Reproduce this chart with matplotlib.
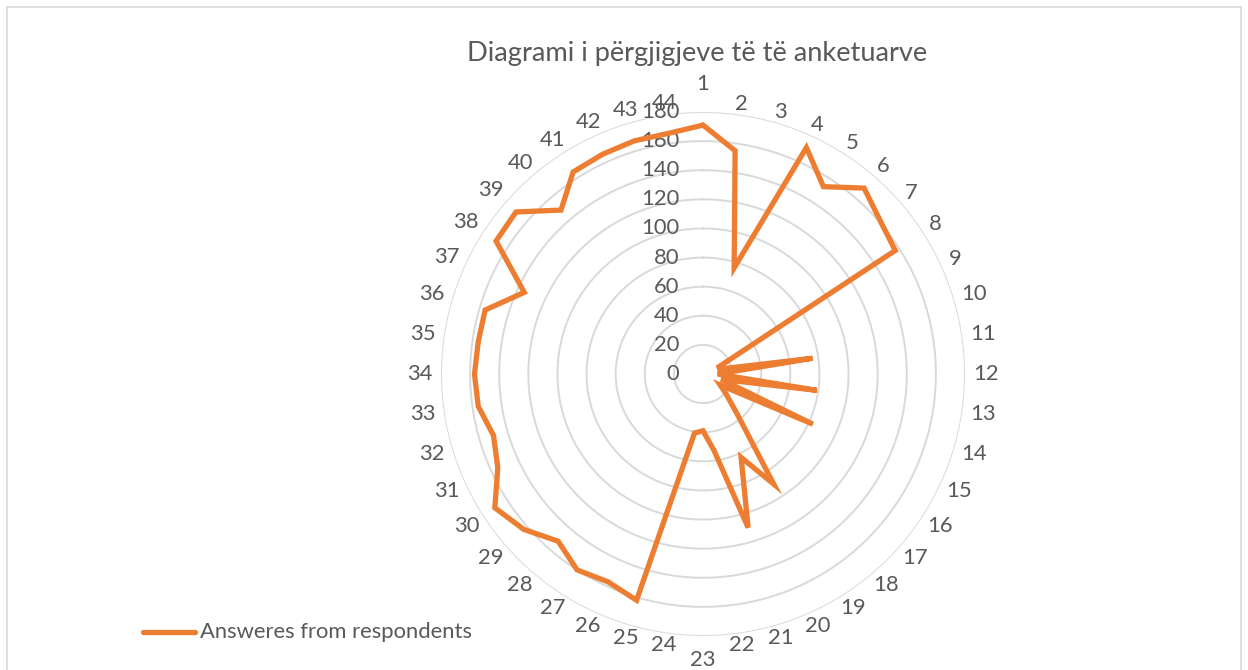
import numpy as np
import matplotlib
matplotlib.use("Agg")
import matplotlib.pyplot as plt
from matplotlib.lines import Line2D

title = "Diagrami i përgjigjeve të të anketuarve"
series_name = "Answeres from respondents"
categories = [str(i) for i in range(1, 45)]
values = [171, 155, 76, 171, 153, 169, 161, 157, 12, 12,
          76, 10, 79, 13, 83, 14, 21, 35, 90, 63,
          110, 53, 39, 41, 162, 157, 160, 152, 163, 170,
          155, 150, 156, 157, 156, 156, 135, 169, 170, 149,
          165, 166, 167, 167]
r_ticks = [0, 20, 40, 60, 80, 100, 120, 140, 160, 180]

W, H = 1248, 670
fig = plt.figure(figsize=(W / 100, H / 100), dpi=100)
fig.patch.set_facecolor("white")

FONT = ["Lato", "DejaVu Sans"]
TXT = "#595959"
GRID = "#D9D9D9"
ORANGE = "#ED7D31"
FS = 15.8

# chart frame
for xs, ys in [((7, 7), (0, H - 7)), ((7, W - 7), (H - 7, H - 7)), ((W - 7, W - 7), (0, H - 7))]:
    fig.add_artist(Line2D([x / W for x in xs], [y / H for y in ys], color=GRID, lw=1.2))

cx, cy, R = 703, 374, 262
ax = fig.add_axes([(cx - R) / W, (H - cy - R) / H, 2 * R / W, 2 * R / H], projection="polar")
ax.set_theta_zero_location("N")
ax.set_theta_direction(-1)
ax.set_ylim(0, 180)
px2data = 180 / R

n = len(categories)
theta = np.arange(n) * 2 * np.pi / n

ax.set_xticks([])
ax.set_yticks(r_ticks[1:])
ax.set_yticklabels([])
ax.grid(False)
tt = np.linspace(0, 2 * np.pi, 400)
for v in r_ticks[1:]:
    ax.plot(tt, np.full_like(tt, v), color=GRID, lw=1.4, zorder=1)
ax.spines["polar"].set_visible(False)
ax.set_facecolor("none")

tc = np.append(theta, theta[0])
vc = np.append(values, values[0])
ax.plot(tc, vc, color=ORANGE, lw=3.8, solid_joinstyle="miter", solid_capstyle="round", zorder=3)

# radial value labels
for v in r_ticks:
    ax.annotate(str(v), xy=(0, v), xytext=(-17, 0), textcoords="offset points",
                ha="right", va="center", fontsize=FS, color=TXT, family=FONT,
                annotation_clip=False, zorder=2)

# category labels (box kept at a fixed gap outside the outer ring)
for t, c in zip(theta, categories):
    if abs(np.cos(t)) > 0.999:
        r_px = 290 if np.cos(t) > 0 else 286
    else:
        r_px = 272 + 5.5 * len(c) * abs(np.sin(t))
    ax.text(t, r_px * px2data, c, ha="center", va="center", fontsize=FS, color=TXT,
            family=FONT, clip_on=False)

fig.text(697 / W, 1 - 53 / H, title, ha="center", va="center", fontsize=19.6,
         color=TXT, family=FONT)

# legend
fig.add_artist(Line2D([143 / W, 195 / W], [1 - 632 / H, 1 - 632 / H], color=ORANGE,
                      lw=3.8, solid_capstyle="round"))
fig.text(200 / W, 1 - 632 / H, series_name, ha="left", va="center", fontsize=FS,
         color=TXT, family=FONT)

fig.savefig("out.png", dpi=100, facecolor="white")
